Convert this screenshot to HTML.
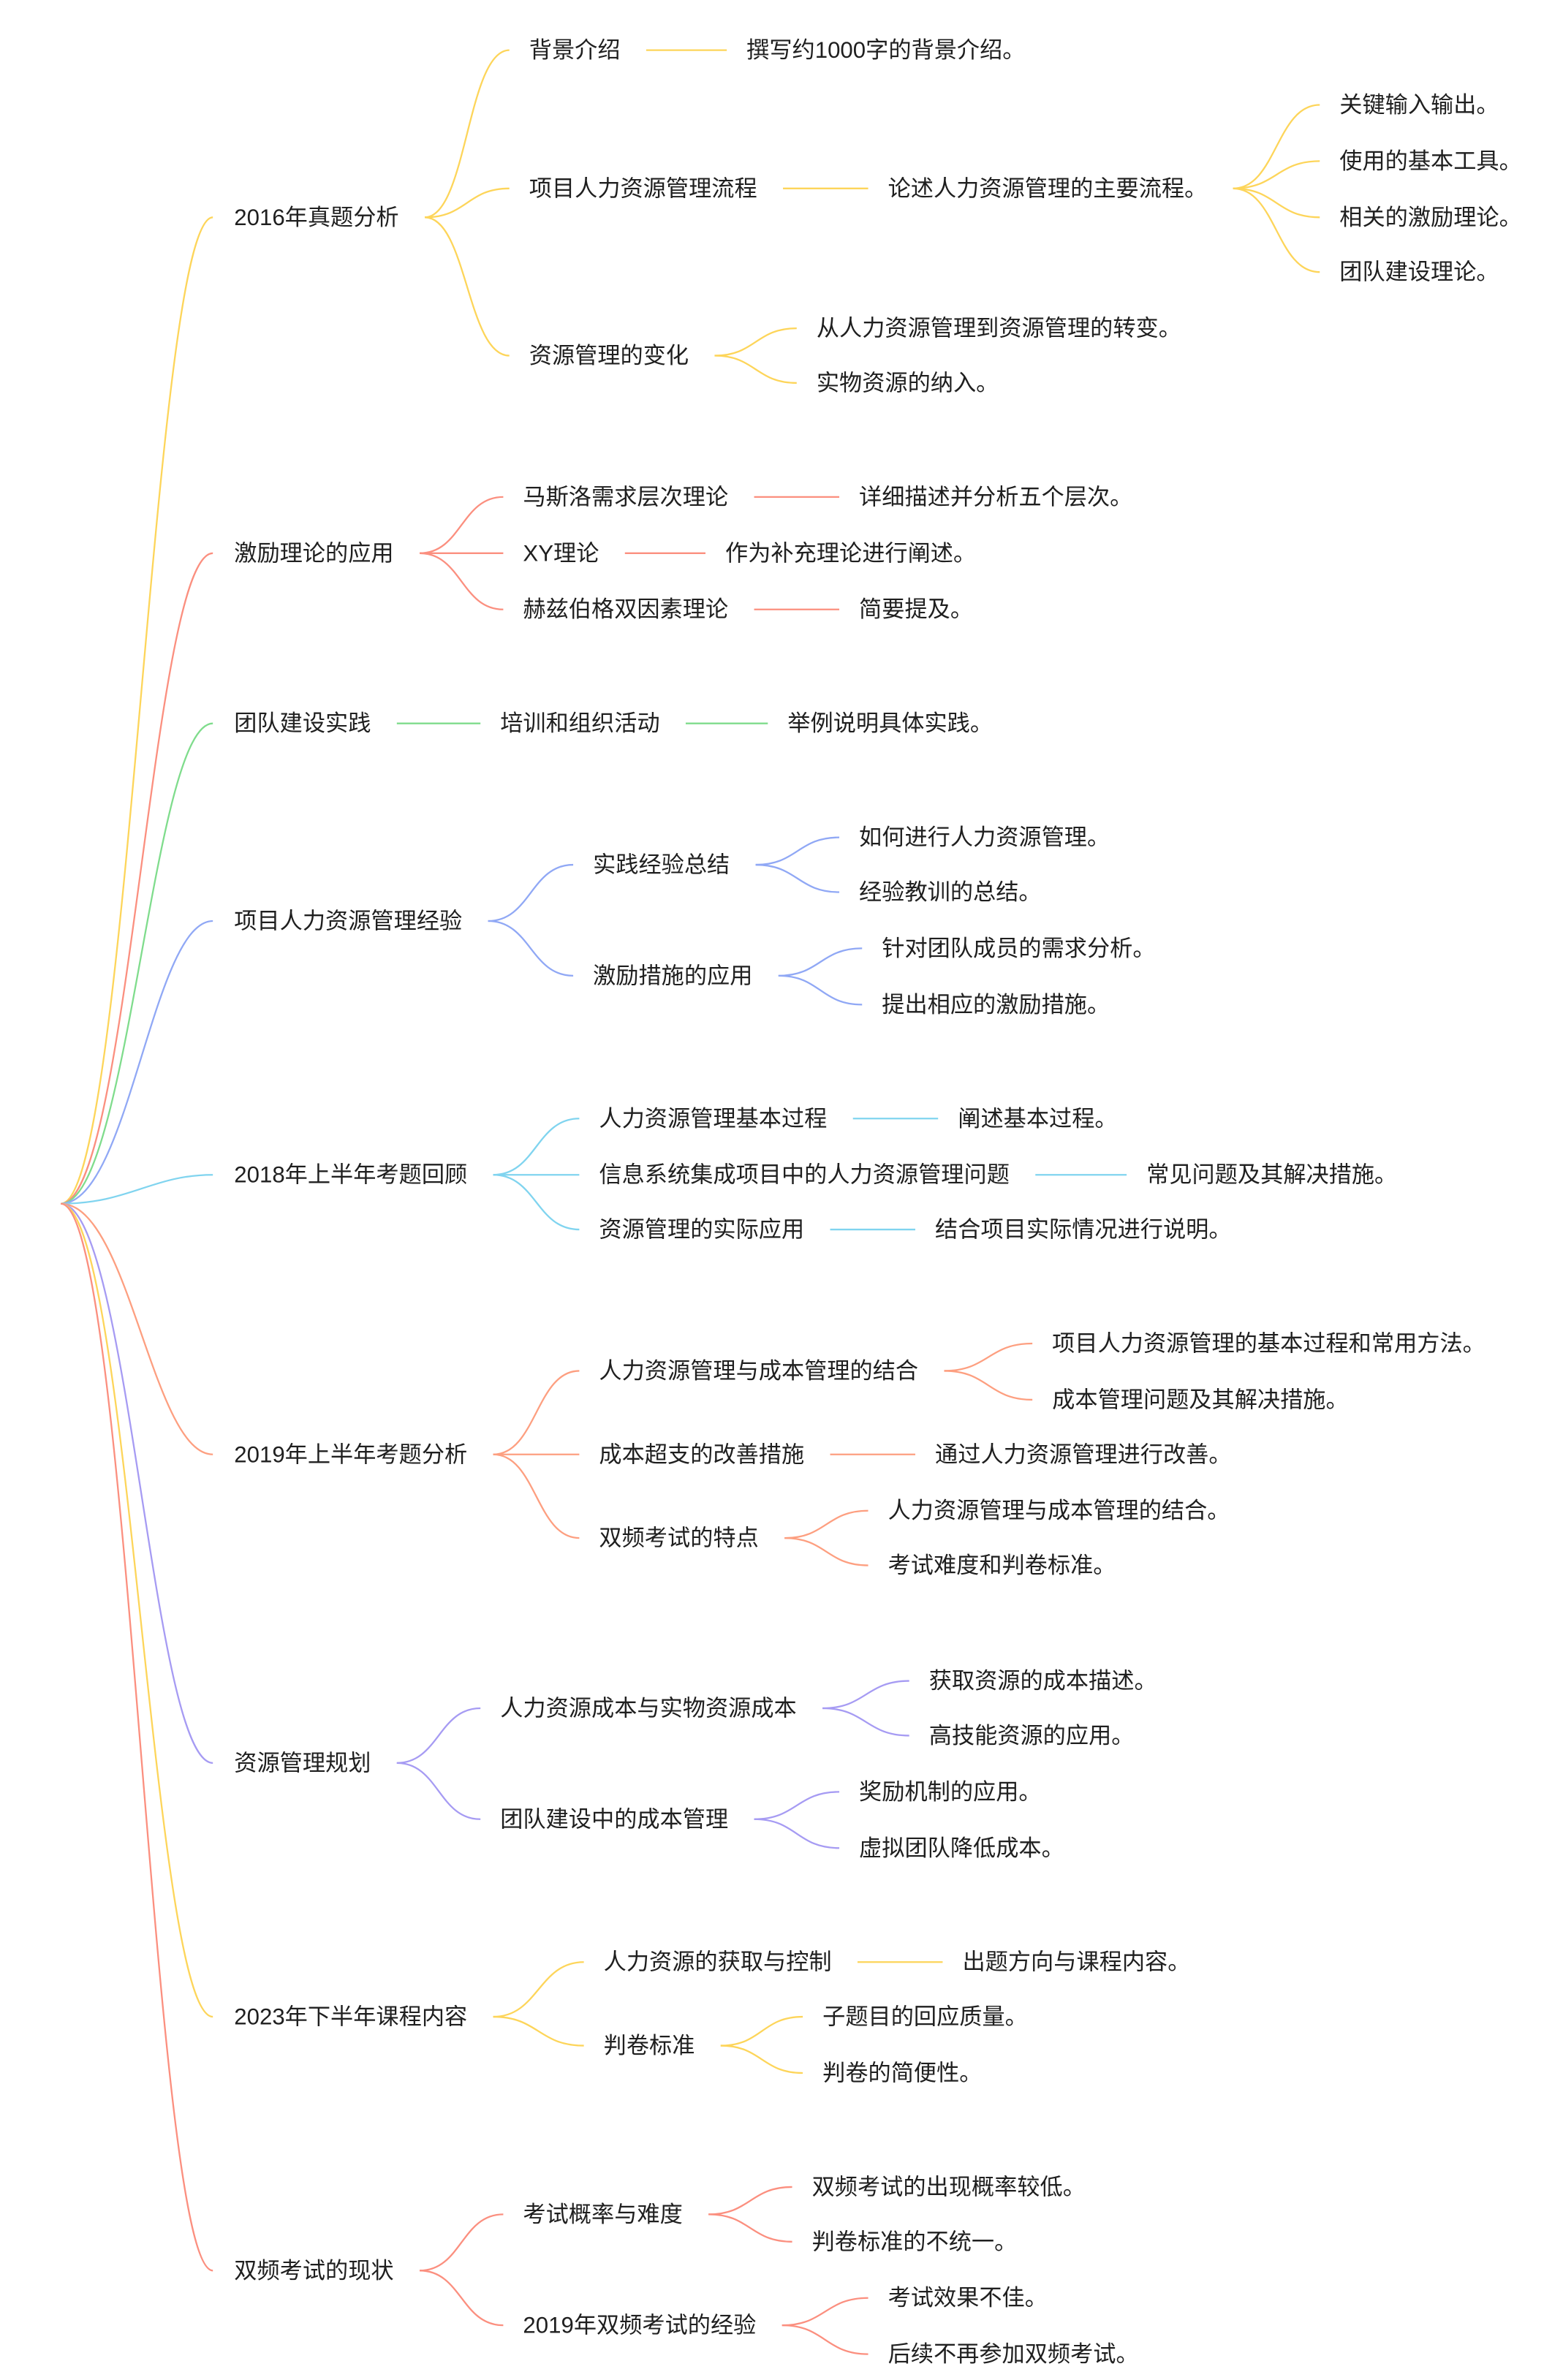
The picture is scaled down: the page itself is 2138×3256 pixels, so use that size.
<!DOCTYPE html>
<html><head><meta charset="utf-8"><style>
html,body{margin:0;padding:0;background:#fff;}
svg{display:block;}
text{font-family:"Liberation Sans","Noto Sans CJK SC",sans-serif;font-size:15px;fill:#1f1f1f;dominant-baseline:central;}
</style></head><body>
<svg id="mm" width="2138" height="3256" viewBox="0 0 1028 1566" preserveAspectRatio="none" xmlns="http://www.w3.org/2000/svg">
<g id="links"></g>
<g id="labels"></g>
</svg>
<script>
const rootPoint = [40, 792];
const branchColors = ["#fdd55a","#fb8f7f","#7fdc8c","#90a8f5","#80d4ef","#fd9f80","#a69bf3","#fdd55a","#fb8f7f"];
const tree = [
 ["2016年真题分析",154,143,[
   ["背景介绍",348,33,[["撰写约1000字的背景介绍。",491,33,[]]]],
   ["项目人力资源管理流程",348,124,[["论述人力资源管理的主要流程。",584,124,[
      ["关键输入输出。",881,69,[]],["使用的基本工具。",881,106,[]],["相关的激励理论。",881,143,[]],["团队建设理论。",881,179,[]]]]]],
   ["资源管理的变化",348,234,[["从人力资源管理到资源管理的转变。",537,216,[]],["实物资源的纳入。",537,252,[]]]]]],
 ["激励理论的应用",154,364,[
   ["马斯洛需求层次理论",344,327,[["详细描述并分析五个层次。",565,327,[]]]],
   ["XY理论",344,364,[["作为补充理论进行阐述。",477,364,[]]]],
   ["赫兹伯格双因素理论",344,401,[["简要提及。",565,401,[]]]]]],
 ["团队建设实践",154,476,[["培训和组织活动",329,476,[["举例说明具体实践。",518,476,[]]]]]],
 ["项目人力资源管理经验",154,606,[
   ["实践经验总结",390,569,[["如何进行人力资源管理。",565,551,[]],["经验教训的总结。",565,587,[]]]],
   ["激励措施的应用",390,642,[["针对团队成员的需求分析。",580,624,[]],["提出相应的激励措施。",580,661,[]]]]]],
 ["2018年上半年考题回顾",154,773,[
   ["人力资源管理基本过程",394,736,[["阐述基本过程。",630,736,[]]]],
   ["信息系统集成项目中的人力资源管理问题",394,773,[["常见问题及其解决措施。",754,773,[]]]],
   ["资源管理的实际应用",394,809,[["结合项目实际情况进行说明。",615,809,[]]]]]],
 ["2019年上半年考题分析",154,957,[
   ["人力资源管理与成本管理的结合",394,902,[["项目人力资源管理的基本过程和常用方法。",692,884,[]],["成本管理问题及其解决措施。",692,921,[]]]],
   ["成本超支的改善措施",394,957,[["通过人力资源管理进行改善。",615,957,[]]]],
   ["双频考试的特点",394,1012,[["人力资源管理与成本管理的结合。",584,994,[]],["考试难度和判卷标准。",584,1030,[]]]]]],
 ["资源管理规划",154,1160,[
   ["人力资源成本与实物资源成本",329,1124,[["获取资源的成本描述。",611,1106,[]],["高技能资源的应用。",611,1142,[]]]],
   ["团队建设中的成本管理",329,1197,[["奖励机制的应用。",565,1179,[]],["虚拟团队降低成本。",565,1216,[]]]]]],
 ["2023年下半年课程内容",154,1327,[
   ["人力资源的获取与控制",397,1291,[["出题方向与课程内容。",633,1291,[]]]],
   ["判卷标准",397,1346,[["子题目的回应质量。",541,1327,[]],["判卷的简便性。",541,1364,[]]]]]],
 ["双频考试的现状",154,1494,[
   ["考试概率与难度",344,1457,[["双频考试的出现概率较低。",534,1439,[]],["判卷标准的不统一。",534,1475,[]]]],
   ["2019年双频考试的经验",344,1530,[["考试效果不佳。",584,1512,[]],["后续不再参加双频考试。",584,1549,[]]]]]]
];
const NS="http://www.w3.org/2000/svg";
const links=document.getElementById('links');
const labels=document.getElementById('labels');
function curve(x1,y1,x2,y2,color){
  const p=document.createElementNS(NS,'path');
  const mx=(x1+x2)/2;
  p.setAttribute('d',`M${x1},${y1} C${mx},${y1} ${mx},${y2} ${x2},${y2}`);
  p.setAttribute('fill','none');p.setAttribute('stroke',color);p.setAttribute('stroke-width','1.1');
  
  
  links.appendChild(p);
}
function drawNode(n,color,depth){
  const t=document.createElementNS(NS,'text');
  t.setAttribute('x',n[1]);t.setAttribute('y',n[2]);t.textContent=n[0];
  
  
  labels.appendChild(t);
  const end=n[1]+t.getComputedTextLength()+17;
  n[3].forEach(c=>{curve(end,n[2],c[1]-13,c[2],color);drawNode(c,color,depth+1);});
}
tree.forEach((b,i)=>{
  const col=branchColors[i];
  const p=document.createElementNS(NS,'path');
  p.setAttribute('d',`M${rootPoint[0]},${rootPoint[1]} C${rootPoint[0]+45},${rootPoint[1]} ${rootPoint[0]+60},${b[2]} ${b[1]-14},${b[2]}`);
  p.setAttribute('fill','none');p.setAttribute('stroke',col);p.setAttribute('stroke-width','1.1');
  
  
  links.appendChild(p);
  drawNode(b,col,1);
});
</script>
</body></html>
